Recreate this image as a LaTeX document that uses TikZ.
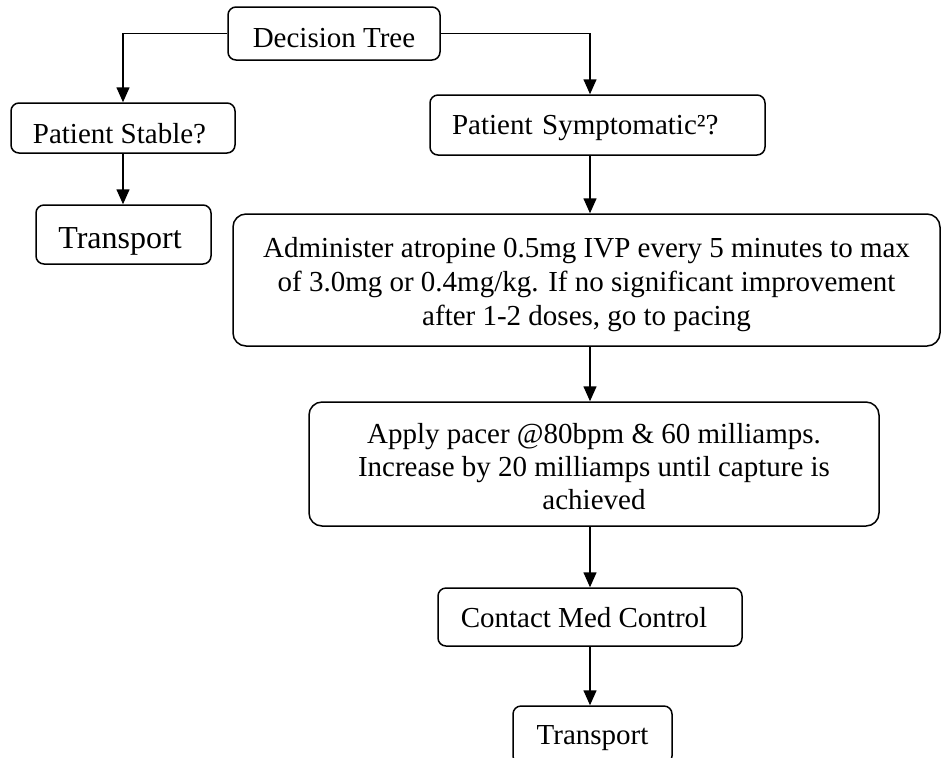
\documentclass[tikz,border=0pt]{standalone}
\usepackage{fontspec}
\setmainfont{Liberation Serif}
\usetikzlibrary{arrows.meta}
\newcommand{\txtshift}[3]{\raisebox{#2}{\hspace*{#1}#3\hspace*{-#1}}}
\begin{document}
\begin{tikzpicture}[x=0.5pt,y=-0.5pt,
  box/.style={draw, line width=0.75pt, rounded corners=4pt, inner sep=0pt, align=center,
    font=\fontsize{14.5}{17}\selectfont, text height=9.6pt, text depth=0pt},
  bigbox/.style={box, rounded corners=6.5pt, text height=45pt, text depth=0pt},
  arr/.style={line width=0.75pt, -{Triangle[length=7.5pt,width=6.5pt]}}]
\useasboundingbox (0,0) rectangle (942,757);
\clip (0,0) rectangle (942,757);
\coordinate (colx) at (590,0);
\node[box, minimum width=106pt, minimum height=26.5pt] (dt) at (334,33.5) {\txtshift{0pt}{-2.25pt}{Decision Tree}};
\node[box, minimum width=112pt, minimum height=25pt] (ps) at (123,128) {\txtshift{-1.75pt}{-2.75pt}{Patient Stable?}};
\node[box, minimum width=87.5pt, minimum height=29.5pt, font=\fontsize{16}{19}\selectfont, text height=10.6pt] (tl) at (123.5,234.5) {\txtshift{-1.75pt}{-1.75pt}{Transport}};
\node[box, inner xsep=11pt, text width=145.5pt, align=left, minimum height=30pt] (psym) at (597.5,125) {Patient Symptomatic²?};
\node[bigbox, minimum width=353.5pt, minimum height=66pt] (adm) at (586.5,280)
  {Administer atropine 0.5mg IVP every 5 minutes to max\\ of 3.0mg or 0.4mg/kg. If no significant improvement\\ after 1-2 doses, go to pacing};
\node[bigbox, minimum width=285pt, minimum height=62pt, font=\fontsize{14.5}{16.5}\selectfont] (pac) at (594,464)
  {Apply pacer @80bpm \& 60 milliamps.\\ Increase by 20 milliamps until capture is\\ achieved};
\node[box, minimum width=152pt, minimum height=29pt] (cmc) at (590,617) {\txtshift{-3pt}{-0.5pt}{Contact Med Control}};
\node[box, minimum width=79.5pt, minimum height=29pt] (tb) at (592.5,735) {Transport};

\draw[arr] (dt.west) -| (ps.north);
\draw[arr] (dt.east) -| (psym.north -| colx);
\draw[arr] (ps.south) -- (tl.north -| ps.south);
\draw[arr] (psym.south -| colx) -- (adm.north -| colx);
\draw[arr] (adm.south -| colx) -- (pac.north -| colx);
\draw[arr] (pac.south -| colx) -- (cmc.north -| colx);
\draw[arr] (cmc.south -| colx) -- (tb.north -| colx);
\end{tikzpicture}
\end{document}
